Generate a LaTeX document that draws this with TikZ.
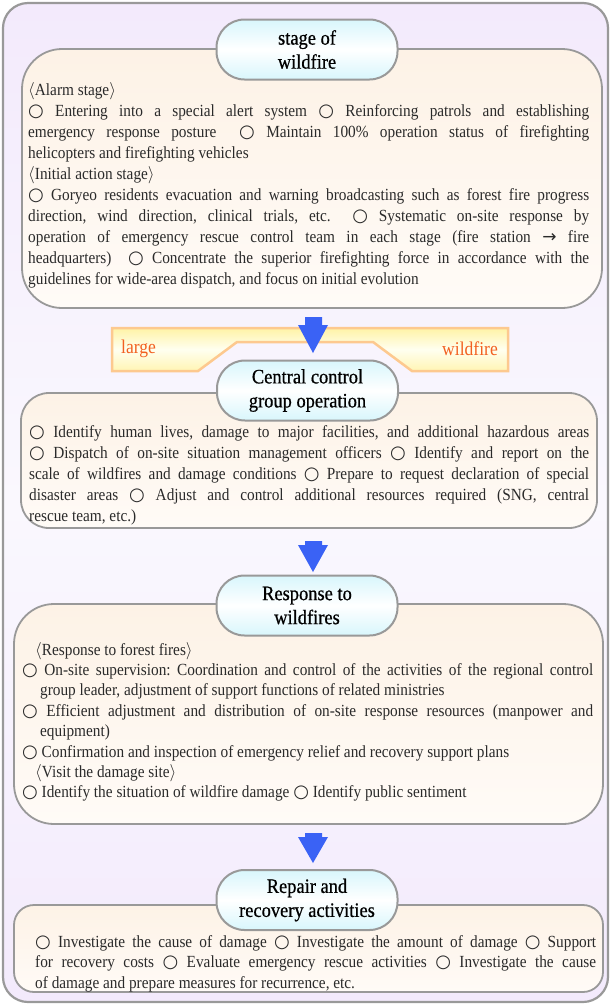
\documentclass[tikz,border=0pt]{standalone}
\usepackage{fontspec}
\setmainfont{Liberation Serif}[FakeStretch=0.9]
\newfontfamily\symfont{DejaVu Sans}
\newfontfamily\titlefont{Liberation Serif}[FakeStretch=0.9, FakeBold=0.6]
\usetikzlibrary{positioning}
\definecolor{framecol}{HTML}{999999}
\definecolor{lavtop}{HTML}{F3EAFC}
\definecolor{lavmid}{HTML}{FAF8FE}
\definecolor{creamtop}{HTML}{FDF2E6}
\definecolor{creambot}{HTML}{FFFBF7}
\definecolor{pillcyan}{HTML}{D8F6FC}
\definecolor{arrowblue}{HTML}{3A62F5}
\definecolor{bannerline}{HTML}{FDC98F}
\definecolor{banneryel}{HTML}{FFF3A6}
\definecolor{labelorange}{HTML}{F26020}
\definecolor{bodytext}{HTML}{2A2A2A}
\newcommand\ci{{\symfont\fontsize{18}{18}\selectfont\char"25CB}}
\newcommand\hangitem{\hangindent=18pt\hangafter=1\relax}
\frenchspacing
\tikzset{
  stagebox/.style={draw=framecol, line width=1.8pt, top color=creamtop, bottom color=creambot},
  pill/.style={draw=framecol, line width=2pt, rounded corners=28pt,
    top color=pillcyan, bottom color=pillcyan, middle color=white,
    minimum width=181pt, minimum height=60pt, align=center,
    font=\titlefont\fontsize{20.5}{24}\selectfont},
  body/.style={font=\fontsize{17}{21}\selectfont, text=bodytext, inner sep=0pt,
    anchor=base west, align=justify},
  bannerlabel/.style={font=\fontsize{19.5}{20}\selectfont, text=labelorange, inner sep=0pt}
}

\begin{document}
\begin{tikzpicture}[x=1pt, y=-1pt]
  \useasboundingbox (0,0) rectangle (611,1005);

  % outer frame
  \shade[draw=framecol, line width=2.2pt, rounded corners=25pt,
    top color=lavtop, bottom color=lavtop, middle color=lavmid] (3,3) rectangle (608,1002);

  % stage boxes
  \shade[stagebox, rounded corners=40pt] (22,49) rectangle (602,308);
  \shade[stagebox, rounded corners=28pt] (21,393) rectangle (597,528);
  \shade[stagebox, rounded corners=40pt] (14,604) rectangle (603,824);
  \shade[stagebox, rounded corners=20pt] (14,905) rectangle (603,992);

  % large wildfire banner
  \shade[draw=bannerline, line width=2.5pt, top color=banneryel, bottom color=banneryel!85,
    middle color=yellow!6] (112,328) -- (508,328) -- (508,371) -- (412,371) -- (373,342)
    -- (237,342) -- (198,371) -- (112,371) -- cycle;
  \node[bannerlabel, anchor=west] (large) at (121,349) {large};
  \node[bannerlabel, anchor=east] (wild) at (498,349) {wildfire};

  % down arrows
  \foreach \top/\hs/\tip in {317/325/353, 541/545/572, 833/837/863}
    \fill[arrowblue] (305,\top) -- (322,\top) -- (322,\hs) -- (328,\hs) -- (313,\tip)
      -- (298,\hs) -- (305,\hs) -- cycle;

  % titles
  \node[pill] (stage) at (307,49.5) {stage of\\wildfire};
  \node[pill] (central) at (307.5,390.5) {Central control\\group operation};
  \node[pill] (response) at (307,605.5) {Response to\\wildfires};
  \node[pill] (repair) at (307,900) {Repair and\\recovery activities};

  % texts
  \node[body, text width=561pt] (stagetxt) at (28,95) {%
    $\langle$Alarm stage$\rangle$\par
    \ci{} Entering into a special alert system \ci{} Reinforcing patrols and establishing\linebreak
    emergency response posture \ \ci{} Maintain 100\% operation status of firefighting\linebreak
    helicopters and firefighting vehicles\par
    $\langle$Initial action stage$\rangle$\par
    \ci{} Goryeo residents evacuation and warning broadcasting such as forest fire progress\linebreak
    direction, wind direction, clinical trials, etc. \ \ci{} Systematic on-site response by\linebreak
    operation of emergency rescue control team in each stage (fire station {\symfont →} fire\linebreak
    headquarters) \ \ci{} Concentrate the superior firefighting force in accordance with the\linebreak
    guidelines for wide-area dispatch, and focus on initial evolution};

  \node[body, text width=560pt] (centraltxt) at (29,437) {%
    \ci{} Identify human lives, damage to major facilities, and additional hazardous areas\linebreak
    \ci{} Dispatch of on-site situation management officers \ci{} Identify and report on the\linebreak
    scale of wildfires and damage conditions \ci{} Prepare to request declaration of special\linebreak
    disaster areas \ci{} Adjust and control additional resources required (SNG, central\linebreak
    rescue team, etc.)};

  \node[body, text width=571pt, font=\fontsize{17}{20.4}\selectfont] (responsetxt) at (22,655) {%
    \hspace*{13pt}$\langle$Response to forest fires$\rangle$\par
    \hangitem\ci{} On-site supervision: Coordination and control of the activities of the regional control\linebreak
    group leader, adjustment of support functions of related ministries\par
    \hangitem\ci{} Efficient adjustment and distribution of on-site response resources (manpower and\linebreak
    equipment)\par
    \hangitem\ci{} Confirmation and inspection of emergency relief and recovery support plans\par
    \hspace*{13pt}$\langle$Visit the damage site$\rangle$\par
    \hangitem\ci{} Identify the situation of wildfire damage \ci{} Identify public sentiment};

  \node[body, text width=561pt, font=\fontsize{17}{20.5}\selectfont] (repairtxt) at (35,947) {%
    \ci{} Investigate the cause of damage \ci{} Investigate the amount of damage \ci{} Support\linebreak
    for recovery costs \ci{} Evaluate emergency rescue activities \ci{} Investigate the cause\linebreak
    of damage and prepare measures for recurrence, etc.};
\end{tikzpicture}
\end{document}
